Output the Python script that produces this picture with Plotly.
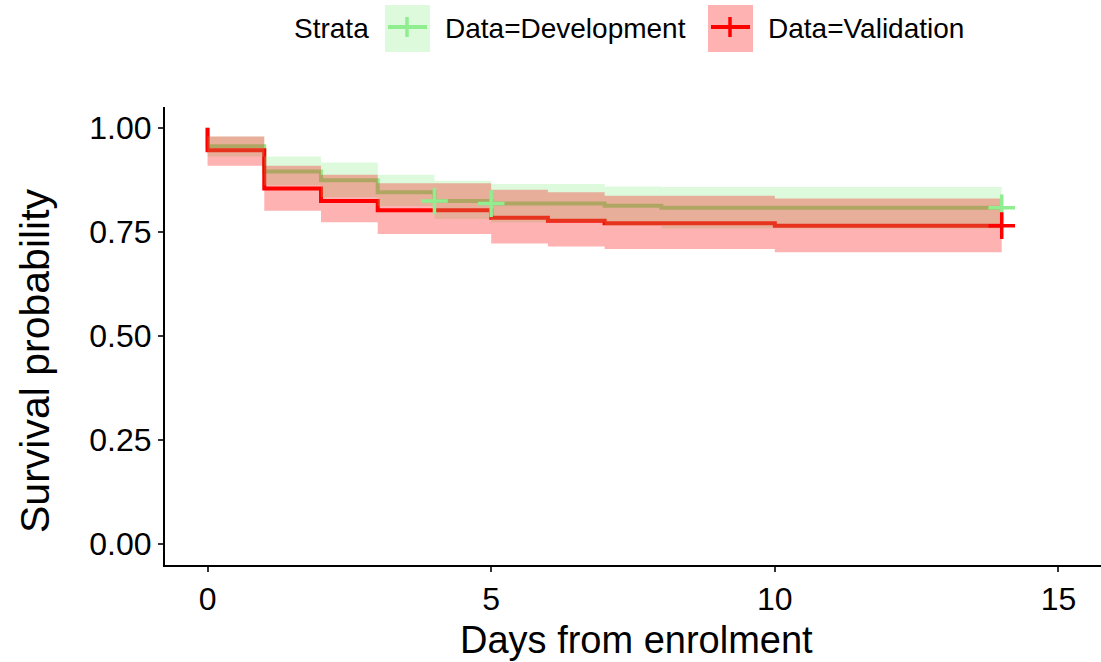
import plotly.graph_objects as go

# Kaplan-Meier estimates (step values) and 95% confidence limits per stratum
dev_time = [0, 0, 1, 2, 3, 4, 5, 7, 8, 14]
dev_surv = [1.0, 0.956, 0.895, 0.874, 0.845, 0.824, 0.818, 0.813, 0.808, 0.808]
dev_upper = [1.0, 0.979, 0.931, 0.917, 0.887, 0.873, 0.865, 0.859, 0.858, 0.858]
dev_lower = [1.0, 0.931, 0.862, 0.833, 0.812, 0.781, 0.773, 0.765, 0.758, 0.758]
dev_censor = [4, 5, 14]

val_time = [0, 0, 1, 2, 3, 5, 6, 7, 10, 14]
val_surv = [1.0, 0.946, 0.854, 0.824, 0.802, 0.784, 0.777, 0.771, 0.765, 0.765]
val_upper = [1.0, 0.979, 0.909, 0.887, 0.867, 0.851, 0.845, 0.837, 0.830, 0.830]
val_lower = [1.0, 0.909, 0.801, 0.773, 0.745, 0.722, 0.715, 0.709, 0.701, 0.701]
val_censor = [14]

x_ticks = [0, 5, 10, 15]
y_ticks = [0.0, 0.25, 0.5, 0.75, 1.0]
strata = ["Data=Development", "Data=Validation"]

GREEN = "#90EE90"
RED = "#FF0000"
GREEN_FILL = "rgba(144,238,144,0.3)"
RED_FILL = "rgba(255,0,0,0.3)"
FONT = "Liberation Sans, Arial, sans-serif"

W, H = 1101, 662
ML, MR, MT, MB = 165, 0, 107, 97


def px_x(p):
    return (p - ML) / (W - ML - MR)


def px_y(p):
    return (H - MB - p) / (H - MT - MB)


def surv_at(times, surv, t):
    val = surv[0]
    for ti, si in zip(times, surv):
        if ti <= t:
            val = si
    return val


fig = go.Figure()

# survival curves
for times, surv, color in [(dev_time, dev_surv, GREEN), (val_time, val_surv, RED)]:
    fig.add_trace(go.Scatter(x=times, y=surv, mode="lines",
                             line=dict(color=color, width=4, shape="hv"),
                             showlegend=False, hoverinfo="skip"))

# confidence bands, drawn over the curves
for times, lo, hi, fill in [(dev_time, dev_lower, dev_upper, GREEN_FILL),
                            (val_time, val_lower, val_upper, RED_FILL)]:
    fig.add_trace(go.Scatter(x=times, y=lo, mode="lines",
                             line=dict(width=0, shape="hv"),
                             showlegend=False, hoverinfo="skip"))
    fig.add_trace(go.Scatter(x=times, y=hi, mode="lines",
                             line=dict(width=0, shape="hv"),
                             fill="tonexty", fillcolor=fill,
                             showlegend=False, hoverinfo="skip"))

# censoring marks
for times, surv, cens, color in [(dev_time, dev_surv, dev_censor, GREEN),
                                 (val_time, val_surv, val_censor, RED)]:
    fig.add_trace(go.Scatter(x=cens, y=[surv_at(times, surv, c) for c in cens],
                             mode="markers",
                             marker=dict(symbol="cross-thin", size=19,
                                         line=dict(color=color, width=3.5)),
                             showlegend=False, hoverinfo="skip"))

# legend drawn with shapes and text
shapes = []
annotations = []
annotations.append(dict(text="Strata", x=px_x(292), y=px_y(28), xref="paper", yref="paper",
                        xanchor="left", yanchor="middle", showarrow=False,
                        font=dict(family=FONT, size=28, color="black")))
for label, left, color, fill in [(strata[0], 385, GREEN, GREEN_FILL),
                                 (strata[1], 708, RED, RED_FILL)]:
    shapes.append(dict(type="rect", xref="paper", yref="paper",
                       x0=px_x(left), x1=px_x(left + 45), y0=px_y(52), y1=px_y(5),
                       fillcolor=fill, line=dict(width=0), layer="above"))
    shapes.append(dict(type="line", xref="paper", yref="paper",
                       x0=px_x(left + 3), x1=px_x(left + 42), y0=px_y(27), y1=px_y(27),
                       line=dict(color=color, width=4), layer="above"))
    shapes.append(dict(type="line", xref="paper", yref="paper",
                       x0=px_x(left + 22), x1=px_x(left + 22), y0=px_y(17), y1=px_y(37),
                       line=dict(color=color, width=3.5), layer="above"))
    annotations.append(dict(text=label, x=px_x(left + 58), y=px_y(28), xref="paper", yref="paper",
                            xanchor="left", yanchor="middle", showarrow=False,
                            font=dict(family=FONT, size=28, color="black")))

# axis titles
annotations.append(dict(text="Days from enrolment", x=px_x(636), y=px_y(640),
                        xref="paper", yref="paper", xanchor="center", yanchor="middle",
                        showarrow=False, font=dict(family=FONT, size=38, color="black")))
annotations.append(dict(text="Survival probability", x=px_x(35), y=px_y(361),
                        xref="paper", yref="paper", xanchor="center", yanchor="middle",
                        textangle=-90, showarrow=False,
                        font=dict(family=FONT, size=41, color="black")))

axis_common = dict(showgrid=False, zeroline=False, showline=True, linecolor="black",
                   linewidth=2, ticks="outside", ticklen=5, tickwidth=2, tickcolor="#333333",
                   tickfont=dict(family=FONT, size=32, color="black"))

fig.update_layout(
    width=W, height=H,
    margin=dict(l=ML, r=MR, t=MT, b=MB),
    paper_bgcolor="white", plot_bgcolor="white",
    showlegend=False,
    shapes=shapes, annotations=annotations,
    xaxis=dict(range=[-0.75, 15.75], tickvals=x_ticks, **axis_common),
    yaxis=dict(range=[-0.05, 1.05], tickvals=y_ticks, tickformat=".2f", **axis_common),
)

fig.write_html("out.html")
